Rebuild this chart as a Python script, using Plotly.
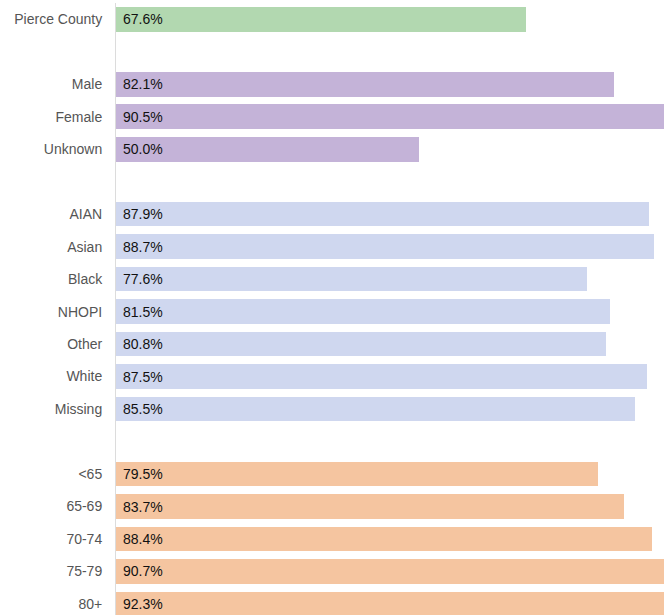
import plotly.graph_objects as go

# groups of bars, separated by one empty row
overall_labels = ["Pierce County"]
overall_values = [67.6]

sex_labels = ["Male", "Female", "Unknown"]
sex_values = [82.1, 90.5, 50.0]

race_labels = ["AIAN", "Asian", "Black", "NHOPI", "Other", "White", "Missing"]
race_values = [87.9, 88.7, 77.6, 81.5, 80.8, 87.5, 85.5]

age_labels = ["<65", "65-69", "70-74", "75-79", "80+"]
age_values = [79.5, 83.7, 88.4, 90.7, 92.3]

groups = [
    (overall_labels, overall_values, "#b2d8b0"),
    (sex_labels, sex_values, "#c4b3d8"),
    (race_labels, race_values, "#cfd7ef"),
    (age_labels, age_values, "#f5c5a0"),
]

fig = go.Figure()
tickvals, ticktext = [], []
pos = 0
for labels, values, color in groups:
    ys = list(range(pos, pos + len(labels)))
    fig.add_trace(go.Bar(
        x=values, y=ys, orientation="h", width=0.76,
        marker=dict(color=color, line=dict(width=0)),
        hoverinfo="skip",
    ))
    for y, v in zip(ys, values):
        fig.add_annotation(x=0, y=y, text=f"{v:.1f}%", showarrow=False,
                           xanchor="left", xshift=5,
                           font=dict(size=14, color="#111"))
    tickvals += ys
    ticktext += labels
    pos += len(labels) + 1
last = tickvals[-1]

fig.update_layout(
    width=664, height=615,
    margin=dict(l=116, r=0, t=3, b=0),
    plot_bgcolor="white", paper_bgcolor="white",
    showlegend=False,
    font=dict(family="Liberation Sans, Arial, sans-serif", size=14, color="#555"),
    bargap=0,
)
fig.update_xaxes(range=[0, 90.35], showgrid=False, zeroline=False,
                 showticklabels=False, showline=False)
fig.update_yaxes(range=[last + 0.34, -0.5], tickvals=tickvals, ticktext=ticktext,
                 showgrid=False, zeroline=False, showline=True, linecolor="#dcdcdc",
                 linewidth=1, ticks="", ticklabelstandoff=10,
                 tickfont=dict(size=14, color="#555"))

fig.write_html("out.html", config={"displayModeBar": False},
               post_script="document.body.style.margin='0';")
